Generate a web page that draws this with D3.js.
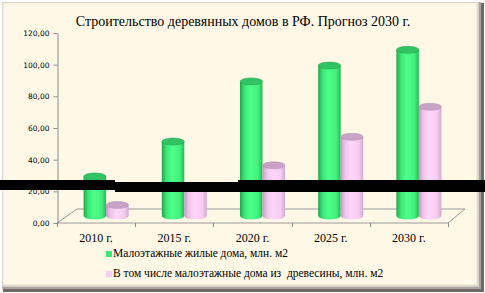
<!DOCTYPE html>
<html>
<head>
<meta charset="utf-8">
<script src="https://cdn.jsdelivr.net/npm/d3@7"></script>
<style>
  body { margin: 0; background: #fff; }
  svg { display: block; }
</style>
</head>
<body>
<div id="chart"></div>
<script>
// chart data
let years = ['2010 г.', '2015 г.', '2020 г.', '2025 г.', '2030 г.'];
let seriesNames = ['Малоэтажные жилые дома, млн. м2', 'В том числе малоэтажные дома из  древесины, млн. м2'];
let lowRise = [25, 47, 85, 95, 105];
let woodHouses = [7, 19, 32, 50, 69];
let yTicks = [0, 20, 40, 60, 80, 100, 120];

let svgWidth = 485;
let svgHeight = 293;

// depth of the 3d floor
let depthX = 19;
let depthY = -14;

let svg = d3.select('#chart').append('svg')
  .attr('width', svgWidth)
  .attr('height', svgHeight);

let defs = svg.append('defs');

function cylGradient(id, stops) {
  let g = defs.append('linearGradient').attr('id', id)
    .attr('x1', 0).attr('x2', 1).attr('y1', 0).attr('y2', 0);
  stops.forEach(s => g.append('stop').attr('offset', s[0]).attr('stop-color', s[1]));
}
cylGradient('gGreen', [[0, '#1fa848'], [0.2, '#3de577'], [0.45, '#4cff88'], [0.8, '#44f07d'], [1, '#26b958']]);
cylGradient('gPink', [[0, '#c49ac2'], [0.2, '#efc6ea'], [0.45, '#ffd6fb'], [0.8, '#f6cdf1'], [1, '#d3a8cf']]);

// frame
svg.append('rect').attr('x', 0).attr('y', 0).attr('width', svgWidth).attr('height', svgHeight).attr('fill', '#fff');
svg.append('rect').attr('x', 3).attr('y', 3).attr('width', 481).attr('height', 289).attr('fill', '#6d6a66');
svg.append('rect').attr('x', 2).attr('y', 2).attr('width', 479).attr('height', 287).attr('fill', '#a9a49e');
svg.append('rect').attr('x', 2).attr('y', 2).attr('width', 477).attr('height', 285).attr('fill', '#d6d0c8');
svg.append('rect').attr('x', 3).attr('y', 3).attr('width', 474).attr('height', 282).attr('fill', '#fff8e6')
  .attr('stroke', '#e8e2d6').attr('stroke-width', 1);

// title
svg.append('text')
  .attr('x', 243).attr('y', 26)
  .attr('text-anchor', 'middle')
  .attr('font-family', 'Liberation Serif, serif')
  .attr('font-size', '14px')
  .attr('fill', '#000')
  .text('Строительство деревянных домов в РФ. Прогноз 2030 г.');

// scales
let x = d3.scaleBand().domain(years).range([57, 448]);
let xSub = d3.scaleBand().domain([0, 1]).range([-23, 22]);
let y = d3.scaleLinear().domain([0, 120]).range([223, 33]);

// floor
let x0 = x.range()[0], x1 = x.range()[1], yb = y(0);
svg.append('path')
  .attr('d', `M${x0},${yb}L${x1},${yb}L${x1 + depthX - 2},${yb + depthY}L${x0 + depthX + 1},${yb + depthY}Z`)
  .attr('fill', 'none')
  .attr('stroke', '#9a9a9a')
  .attr('stroke-width', 1);

// value axis
let leftAxis = d3.axisLeft(y)
  .tickValues(yTicks)
  .tickSize(4)
  .tickSizeOuter(0)
  .tickFormat(d => d3.format('.2f')(d).replace('.', ','));

let yAxis = svg.append('g')
  .attr('transform', `translate(${x0 + 0.5}, 0)`)
  .call(leftAxis);
yAxis.select('.domain').attr('stroke', '#8c8c8c');
yAxis.selectAll('.tick line').attr('stroke', '#8c8c8c');
yAxis.selectAll('.tick text')
  .attr('font-family', 'DejaVu Sans, sans-serif')
  .attr('font-size', '7.5px')
  .attr('fill', '#000')
  .attr('x', -8);

// category ticks
svg.append('g').selectAll('line')
  .data(years.map(d => x(d)).concat([x1]))
  .enter().append('line')
  .attr('x1', d => Math.round(d) + 0.5).attr('x2', d => Math.round(d) + 0.5)
  .attr('y1', yb).attr('y2', yb + 4)
  .attr('stroke', '#8c8c8c');

svg.append('g').selectAll('text')
  .data(years)
  .enter().append('text')
  .attr('x', d => x(d) + x.bandwidth() / 2)
  .attr('y', 242)
  .attr('text-anchor', 'middle')
  .attr('font-family', 'Liberation Serif, serif')
  .attr('font-size', '12px')
  .attr('fill', '#000')
  .text(d => d);

// cylinders
let series = [
  { values: lowRise, fill: 'url(#gGreen)', top: '#32c463', edge: '#1e9e45' },
  { values: woodHouses, fill: 'url(#gPink)', top: '#c9a2c7', edge: '#b08cae' }
];
let ry = 3.5;
let bars = svg.append('g');
series.forEach((s, si) => {
  let items = years.map((yr, i) => ({ yr: yr, v: s.values[i] }));
  let g = bars.selectAll('.cyl' + si)
    .data(items)
    .enter().append('g')
    .attr('class', 'cyl' + si);
  let cx = d => x(d.yr) + x.bandwidth() / 2 + depthX / 2 + 1 + xSub(si);
  let w = xSub.bandwidth();
  let base = y(0) + depthY / 2;
  let topY = d => y(d.v) + depthY / 2;
  g.append('ellipse')
    .attr('cx', d => cx(d) + w / 2).attr('cy', base)
    .attr('rx', w / 2).attr('ry', ry)
    .attr('fill', s.fill);
  g.append('rect')
    .attr('x', d => cx(d)).attr('y', d => topY(d))
    .attr('width', w).attr('height', d => base - topY(d))
    .attr('fill', s.fill);
  g.append('ellipse')
    .attr('cx', d => cx(d) + w / 2).attr('cy', d => topY(d))
    .attr('rx', w / 2).attr('ry', ry)
    .attr('fill', s.top)
    .attr('stroke', s.edge).attr('stroke-width', 0.5);
});

// legend
let legend = svg.append('g');
seriesNames.forEach((name, i) => {
  let ly = 257 + i * 20;
  legend.append('rect')
    .attr('x', 106).attr('y', ly - 6)
    .attr('width', 6).attr('height', 6)
    .attr('fill', i === 0 ? '#3ee877' : '#f9cdf4');
  legend.append('text')
    .attr('x', 113).attr('y', ly)
    .attr('font-family', 'Liberation Serif, serif')
    .attr('font-size', '11.5px')
    .attr('fill', '#000')
    .style('white-space', 'pre')
    .text(name);
});

// black band across the picture
svg.append('path')
  .attr('d', 'M0,180L115,180L115,182L238,182L238,180L485,180L485,192L115,192L115,190L0,190Z')
  .attr('fill', '#000');
</script>
</body>
</html>
